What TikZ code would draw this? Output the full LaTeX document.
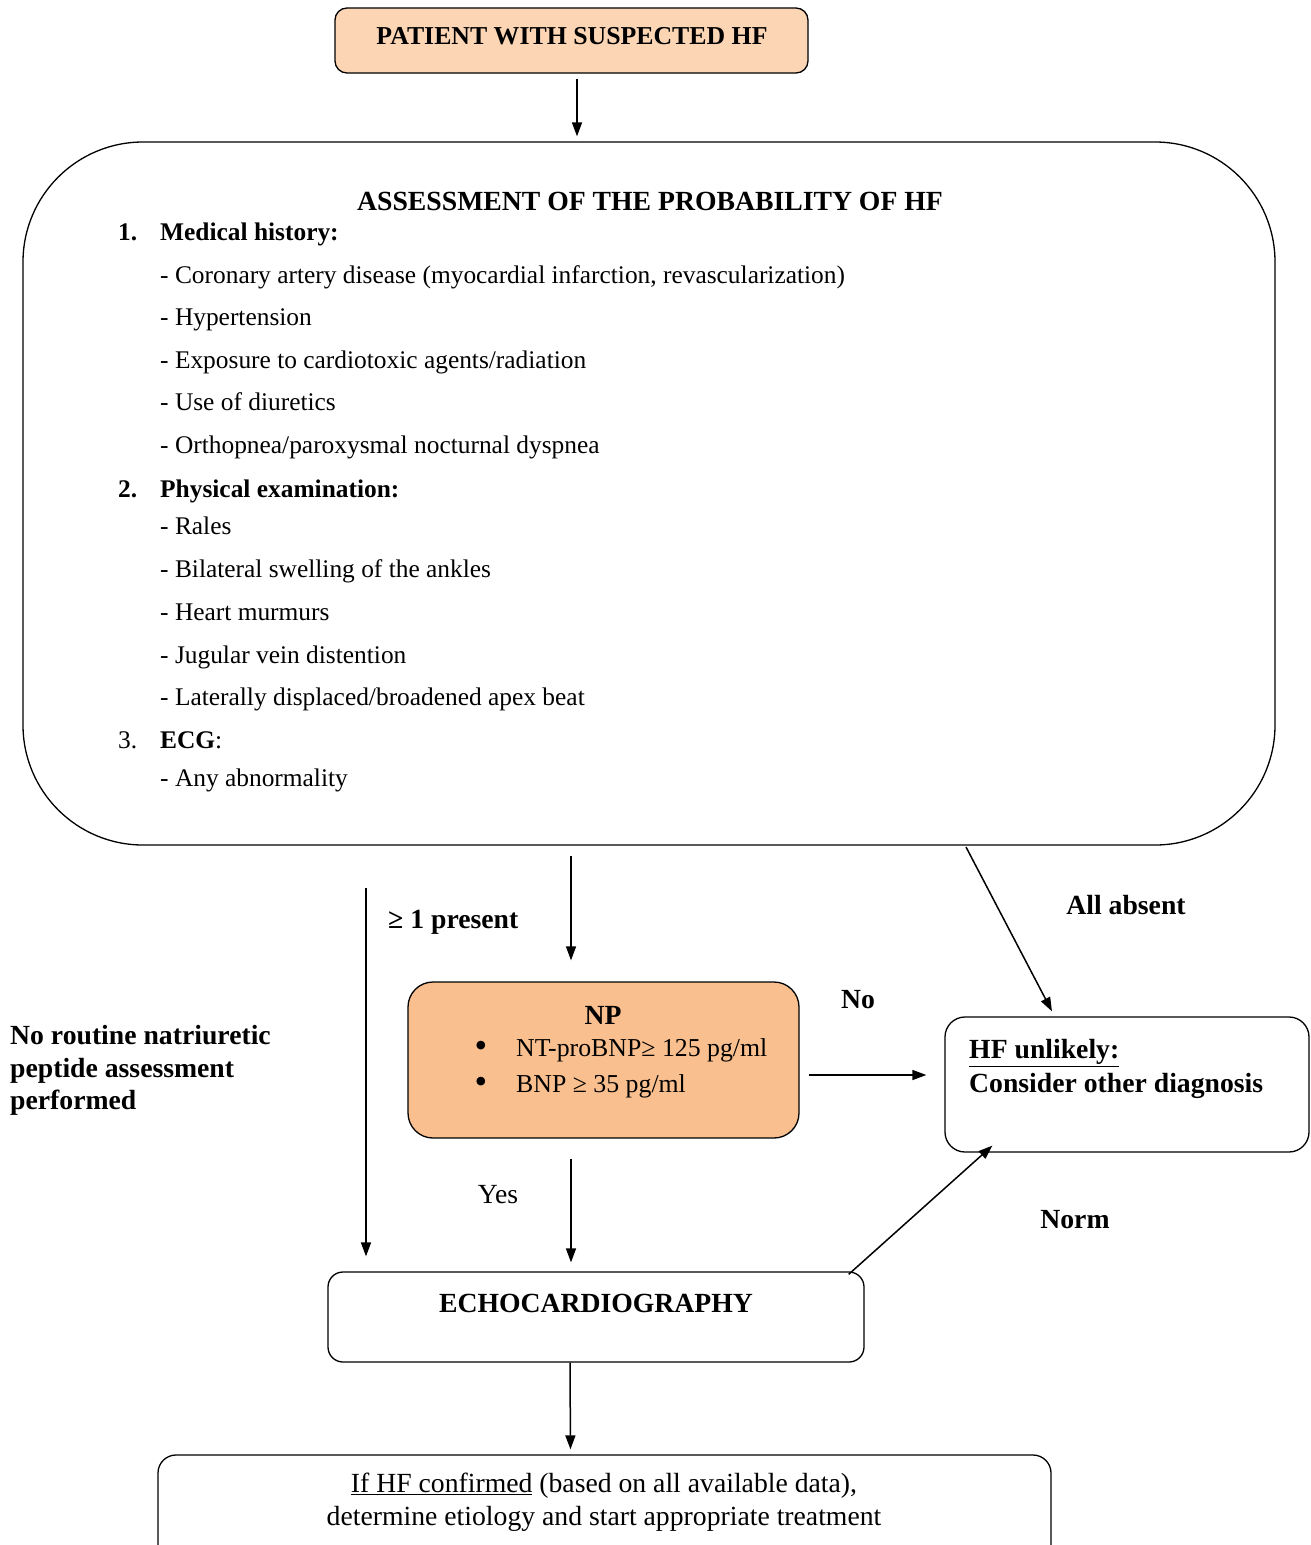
\documentclass[tikz,border=0pt]{standalone}
\usepackage{fontspec}
\setmainfont{Liberation Serif}
\usetikzlibrary{arrows.meta}
\newcommand\fsz{\fontsize{25.4}{30}\selectfont}
\newcommand\fsl{\fontsize{27.7}{33}\selectfont}
\definecolor{topfill}{RGB}{252,213,181}
\definecolor{npfill}{RGB}{249,191,143}
\begin{document}
\begin{tikzpicture}[x=1pt,y=-1pt,
  box/.style={draw, line width=1.3pt, rounded corners=#1, inner sep=0pt},
  arr/.style={line width=1.5pt, -{Triangle[length=14pt,width=10pt]}},
  txt/.style={inner sep=0pt, font=\fsz, text height=22pt, text depth=5pt, anchor=west},
  btxt/.style={txt, font=\fsz\bfseries},
  ctxt/.style={txt, anchor=center},
  cbtxt/.style={btxt, anchor=center},
  ltxt/.style={txt, font=\fsl},
  lbtxt/.style={txt, font=\fsl\bfseries},
  bul/.style={txt, font=\fontsize{36}{36}\selectfont},
]
\useasboundingbox (0,0) rectangle (1311,1545);
\clip (0,0) rectangle (1311,1545);

% boxes
\node[box=12pt, fill=topfill, minimum width=473pt, minimum height=65pt] (top) at (571.5,40.5) {};
\node[box=120pt, minimum width=1252pt, minimum height=703pt] (assess) at (649,493.5) {};
\node[box=25pt, fill=npfill, minimum width=391pt, minimum height=156pt] (np) at (603.5,1060) {};
\node[box=20pt, minimum width=364pt, minimum height=135pt] (unl) at (1127,1084.5) {};
\node[box=15pt, minimum width=536pt, minimum height=90pt] (echo) at (596,1317) {};
\node[box=18pt, minimum width=893pt, minimum height=120pt] (final) at (604.5,1515) {};

% texts
\node[cbtxt, font=\fontsize{25.8}{30}\selectfont\bfseries] (ttop) at (572,36) {PATIENT WITH SUSPECTED HF};
\node[lbtxt, anchor=center] (tassess) at (650,202) {ASSESSMENT OF THE PROBABILITY OF HF};
\node[btxt] (n1) at (118,232) {1.};
\node[btxt] (h1) at (160,232) {Medical history:};
\node[txt] (m1) at (160,275) {- Coronary artery disease (myocardial infarction, revascularization)};
\node[txt] (m2) at (160,317) {- Hypertension};
\node[txt] (m3) at (160,360) {- Exposure to cardiotoxic agents/radiation};
\node[txt] (m4) at (160,402) {- Use of diuretics};
\node[txt] (m5) at (160,445) {- Orthopnea/paroxysmal nocturnal dyspnea};
\node[btxt] (n2) at (118,489) {2.};
\node[btxt] (h2) at (160,489) {Physical examination:};
\node[txt] (p1) at (160,526) {- Rales};
\node[txt] (p2) at (160,569) {- Bilateral swelling of the ankles};
\node[txt] (p3) at (160,612) {- Heart murmurs};
\node[txt] (p4) at (160,655) {- Jugular vein distention};
\node[txt] (p5) at (160,697) {- Laterally displaced/broadened apex beat};
\node[txt] (n3) at (118,740) {3.};
\node[txt] (h3) at (160,740) {\textbf{ECG}:};
\node[txt] (e1) at (160,778) {- Any abnormality};

\node[lbtxt] (present) at (388,920) {≥ 1 present};
\node[lbtxt, anchor=center] (absent) at (1126,906) {All absent};
\node[lbtxt, anchor=center] (tnp) at (603,1016) {NP};
\node[bul, anchor=center] (b1) at (481,1049) {•};
\node[txt, font=\fontsize{25.8}{30}\selectfont] (np1) at (516,1048) {NT-proBNP≥ 125 pg/ml};
\node[bul, anchor=center] (b2) at (481,1085) {•};
\node[txt, font=\fontsize{25.8}{30}\selectfont] (np2) at (516,1084) {BNP ≥ 35 pg/ml};
\node[lbtxt, anchor=center] (no) at (858,1000) {No};
\node[lbtxt] (u1) at (969,1050) {\underline{HF unlikely:}};
\node[lbtxt] (u2) at (969,1084) {Consider other diagnosis};
\node[lbtxt] (r1) at (10,1036) {No routine natriuretic};
\node[lbtxt] (r2) at (10,1069) {peptide assessment};
\node[lbtxt] (r3) at (10,1101) {performed};
\node[ltxt, anchor=center] (yes) at (498,1195) {Yes};
\node[lbtxt, anchor=center] (norm) at (1075,1220) {Norm};
\node[lbtxt, anchor=center] (techo) at (596,1304) {ECHOCARDIOGRAPHY};
\node[ltxt, anchor=center] (f1) at (604,1484) {\underline{If HF confirmed} (based on all available data),};
\node[ltxt, anchor=center] (f2) at (604,1517) {determine etiology and start appropriate treatment};

% helper coordinates
\coordinate (xa) at (577,0);
\coordinate (xb) at (571,0);
\coordinate (ls) at (366,888);
\coordinate (as) at (966,847);
\coordinate (yno) at (0,1075);

% connectors
\draw[arr, shorten <=5pt, shorten >=5pt] (top.south -| xa) -- (assess.north -| xa);
\draw[arr, shorten <=10pt, shorten >=21pt] (assess.south -| xb) -- (np.north -| xb);
\draw[arr, shorten >=15pt] (ls) -- (ls |- echo.north);
\draw[arr] (as) -- ([xshift=-75pt,yshift=5pt]unl.north);
\draw[arr, shorten <=9pt, shorten >=18pt] (np.east |- yno) -- (unl.west |- yno);
\draw[arr, shorten <=20pt, shorten >=9pt] (np.south -| xb) -- (echo.north -| xb);
\draw[arr] ([xshift=-16pt,yshift=-3pt]echo.north east) -- ([xshift=48pt,yshift=7pt]unl.south west);
\draw[arr, shorten >=5pt] ([xshift=-26pt]echo.south) -- ([xshift=-34pt]final.north);
\end{tikzpicture}
\end{document}
